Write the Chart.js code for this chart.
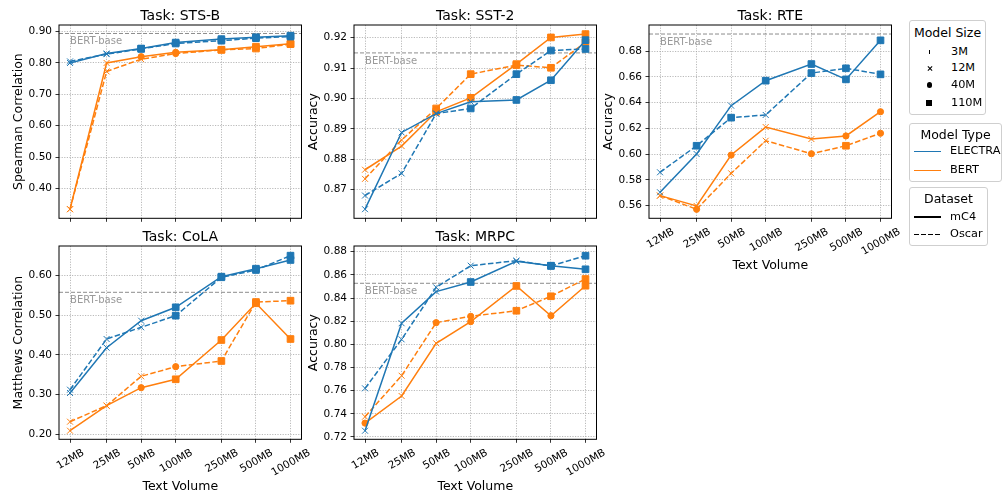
<!DOCTYPE html>
<html>
<head>
<meta charset="utf-8">
<script src="https://cdn.jsdelivr.net/npm/chart.js@4/dist/chart.umd.min.js"></script>
<style>
  html, body { margin: 0; padding: 0; background: #fff; }
  body { width: 1004px; height: 496px; position: relative; overflow: hidden; font-family: "DejaVu Sans", sans-serif; }
  canvas { position: absolute; }
  .leg { position: absolute; border: 1px solid #cfcfcf; border-radius: 3px; background: #fff; box-sizing: border-box; font-size: 11.3px; color: #000; }
  .leg .t { position: absolute; left: 0; width: 100%; text-align: center; line-height: 14px; font-size: 12.5px; }
  .leg .r { position: absolute; line-height: 14px; white-space: nowrap; }
  .mk { position: absolute; background: #000; }
  .ln { position: absolute; height: 1.5px; }
</style>
</head>
<body>
<canvas id="c-stsb" width="310" height="275" style="left:0px;top:0px"></canvas>
<canvas id="c-sst2" width="310" height="275" style="left:295px;top:0px"></canvas>
<canvas id="c-rte" width="310" height="275" style="left:590px;top:0px"></canvas>
<canvas id="c-cola" width="310" height="275" style="left:0px;top:221px"></canvas>
<canvas id="c-mrpc" width="310" height="275" style="left:295px;top:221px"></canvas>

<div class="leg" style="left:909px;top:20px;width:77px;height:95px">
  <div class="t" style="top:4.5px">Model Size</div>
  <div class="mk" style="left:18.5px;top:28.5px;width:1px;height:4.5px"></div>
  <div class="r" style="left:41px;top:23.5px">3M</div>
  <div class="mk" style="left:16.5px;top:47px;width:6px;height:1px;transform:rotate(45deg)"></div>
  <div class="mk" style="left:16.5px;top:47px;width:6px;height:1px;transform:rotate(-45deg)"></div>
  <div class="r" style="left:41px;top:40.3px">12M</div>
  <div class="mk" style="left:16.5px;top:61.3px;width:5.5px;height:5.5px;border-radius:50%"></div>
  <div class="r" style="left:41px;top:57px">40M</div>
  <div class="mk" style="left:16.3px;top:78.7px;width:6px;height:6px"></div>
  <div class="r" style="left:41px;top:74.7px">110M</div>
</div>

<div class="leg" style="left:909px;top:123px;width:93px;height:59px">
  <div class="t" style="top:3.8px">Model Type</div>
  <div class="ln" style="left:4px;width:27px;top:26.8px;background:#1f77b4"></div>
  <div class="r" style="left:40px;top:20.3px">ELECTRA</div>
  <div class="ln" style="left:4px;width:27px;top:45.5px;background:#ff7f0e"></div>
  <div class="r" style="left:40px;top:39px">BERT</div>
</div>

<div class="leg" style="left:909px;top:187px;width:79px;height:59px">
  <div class="t" style="top:4px">Dataset</div>
  <div class="ln" style="left:4px;width:27px;top:28px;background:#000"></div>
  <div class="r" style="left:40px;top:21.5px">mC4</div>
  <div class="ln" style="left:4px;width:27px;top:45.8px;background:repeating-linear-gradient(to right,#000 0 5px,transparent 5px 7px)"></div>
  <div class="r" style="left:40px;top:39px">Oscar</div>
</div>

<script>
// x axis: text volume in MB (log-spaced)
const volumes = [12, 25, 50, 100, 250, 500, 1000];
const volumeLabels = ['12MB', '25MB', '50MB', '100MB', '250MB', '500MB', '1000MB'];

// STS-B
const stsbElectraMc4 = [0.800, 0.830, 0.846, 0.865, 0.876, 0.882, 0.887];
const stsbElectraMc4Size = ['12M', '12M', '110M', '110M', '110M', '110M', '110M'];
const stsbElectraOscar = [0.805, 0.828, 0.845, 0.862, 0.871, 0.879, 0.884];
const stsbElectraOscarSize = ['12M', '12M', '110M', '110M', '110M', '110M', '110M'];
const stsbBertMc4 = [0.334, 0.800, 0.820, 0.834, 0.842, 0.852, 0.861];
const stsbBertMc4Size = ['12M', '12M', '40M', '40M', '110M', '110M', '110M'];
const stsbBertOscar = [0.334, 0.773, 0.812, 0.830, 0.842, 0.846, 0.860];
const stsbBertOscarSize = ['12M', '12M', '12M', '40M', '110M', '110M', '110M'];
const stsbTicks = [0.40, 0.50, 0.60, 0.70, 0.80, 0.90];

// SST-2
const sst2ElectraMc4 = [0.8635, 0.8888, 0.8950, 0.8989, 0.8995, 0.9060, 0.9192];
const sst2ElectraMc4Size = ['12M', '12M', '12M', '12M', '110M', '110M', '110M'];
const sst2ElectraOscar = [0.8680, 0.8753, 0.8950, 0.8967, 0.9080, 0.9158, 0.9163];
const sst2ElectraOscarSize = ['12M', '12M', '12M', '110M', '110M', '110M', '110M'];
const sst2BertMc4 = [0.8765, 0.8843, 0.8956, 0.9002, 0.9113, 0.9201, 0.9212];
const sst2BertMc4Size = ['12M', '12M', '110M', '110M', '110M', '110M', '110M'];
const sst2BertOscar = [0.8735, 0.8863, 0.8967, 0.9080, 0.9110, 0.9101, 0.9185];
const sst2BertOscarSize = ['12M', '12M', '110M', '110M', '110M', '110M', '110M'];
const sst2Ticks = [0.87, 0.88, 0.89, 0.90, 0.91, 0.92];

// RTE
const rteElectraMc4 = [0.5704, 0.6001, 0.6376, 0.6570, 0.6699, 0.6580, 0.6883];
const rteElectraMc4Size = ['12M', '12M', '12M', '110M', '110M', '110M', '110M'];
const rteElectraOscar = [0.5859, 0.6065, 0.6283, 0.6304, 0.6629, 0.6666, 0.6619];
const rteElectraOscarSize = ['12M', '110M', '110M', '12M', '110M', '110M', '110M'];
const rteBertMc4 = [0.5678, 0.5598, 0.5993, 0.6210, 0.6117, 0.6141, 0.6329];
const rteBertMc4Size = ['12M', '12M', '40M', '12M', '12M', '40M', '40M'];
const rteBertOscar = [0.5678, 0.5572, 0.5851, 0.6104, 0.6003, 0.6065, 0.6162];
const rteBertOscarSize = ['12M', '40M', '12M', '12M', '40M', '110M', '40M'];
const rteTicks = [0.56, 0.58, 0.60, 0.62, 0.64, 0.66, 0.68];

// CoLA
const colaElectraMc4 = [0.3039, 0.4179, 0.4858, 0.5195, 0.5966, 0.6166, 0.6385];
const colaElectraMc4Size = ['12M', '12M', '12M', '110M', '110M', '110M', '110M'];
const colaElectraOscar = [0.3122, 0.4397, 0.4692, 0.4984, 0.5950, 0.6133, 0.6494];
const colaElectraOscarSize = ['12M', '12M', '12M', '110M', '110M', '110M', '110M'];
const colaBertMc4 = [0.2090, 0.2720, 0.3172, 0.3384, 0.4372, 0.5296, 0.4397];
const colaBertMc4Size = ['12M', '12M', '40M', '110M', '110M', '110M', '110M'];
const colaBertOscar = [0.2317, 0.2720, 0.3459, 0.3701, 0.3844, 0.5328, 0.5361];
const colaBertOscarSize = ['12M', '12M', '12M', '40M', '110M', '110M', '110M'];
const colaTicks = [0.20, 0.30, 0.40, 0.50, 0.60];

// MRPC
const mrpcElectraMc4 = [0.7254, 0.8182, 0.8455, 0.8538, 0.8717, 0.8679, 0.8648];
const mrpcElectraMc4Size = ['12M', '12M', '12M', '110M', '12M', '110M', '110M'];
const mrpcElectraOscar = [0.7620, 0.8043, 0.8492, 0.8679, 0.8722, 0.8677, 0.8765];
const mrpcElectraOscarSize = ['12M', '12M', '12M', '12M', '12M', '110M', '110M'];
const mrpcBertMc4 = [0.7320, 0.7554, 0.8009, 0.8196, 0.8504, 0.8247, 0.8506];
const mrpcBertMc4Size = ['40M', '12M', '12M', '40M', '110M', '40M', '110M'];
const mrpcBertOscar = [0.7375, 0.7729, 0.8187, 0.8242, 0.8290, 0.8415, 0.8564];
const mrpcBertOscarSize = ['12M', '12M', '40M', '40M', '110M', '110M', '110M'];
const mrpcTicks = [0.72, 0.74, 0.76, 0.78, 0.80, 0.82, 0.84, 0.86, 0.88];

// BERT-base reference scores
const bertBase = { stsb: 0.894, sst2: 0.915, rte: 0.6932, cola: 0.5572, mrpc: 0.8527 };

const BLUE = '#1f77b4';
const ORANGE = '#ff7f0e';
const GRID = '#a8a8a8';
const FONT = '"DejaVu Sans", sans-serif';
const TICK_SIZE = 10.5;
const X_MIN = 9.62, X_MAX = 1247;

const MARKS = {
  '3M':   { style: 'line', rot: 90, r: 3 },
  '12M':  { style: 'crossRot', rot: 0, r: 4.2 },
  '40M':  { style: 'circle', rot: 0, r: 3.1 },
  '110M': { style: 'rect', rot: 0, r: 4.7 }
};

// frame, title, BERT-base note and centred 30° x tick labels (matplotlib style)
const panelDeco = {
  id: 'panelDeco',
  afterDatasetsDraw(chart, args, opts) {
    const { ctx, chartArea: a } = chart;
    const xs = chart.scales.x, ys = chart.scales.y;
    ctx.save();
    ctx.strokeStyle = '#000';
    ctx.lineWidth = 1;
    ctx.strokeRect(a.left, a.top, a.right - a.left, a.bottom - a.top);

    ctx.fillStyle = '#000';
    ctx.font = '14px ' + FONT;
    ctx.textAlign = 'center';
    ctx.textBaseline = 'alphabetic';
    ctx.fillText(opts.title, (a.left + a.right) / 2, a.top - 5.5);

    if (opts.showX) {
      ctx.font = TICK_SIZE + 'px ' + FONT;
      const cap = TICK_SIZE * 0.73;
      const ang = Math.PI / 6;
      volumes.forEach((v, i) => {
        const txt = volumeLabels[i];
        const w = ctx.measureText(txt).width;
        const bh = w * Math.sin(ang) + cap * Math.cos(ang);
        ctx.save();
        ctx.translate(xs.getPixelForValue(v), a.bottom + 8.5 + bh / 2);
        ctx.rotate(-ang);
        ctx.fillText(txt, 0, cap / 2);
        ctx.restore();
      });
    }

    ctx.fillStyle = '#999';
    ctx.font = '10px ' + FONT;
    ctx.textAlign = 'left';
    ctx.textBaseline = 'middle';
    ctx.fillText('BERT-base', xs.getPixelForValue(volumes[0]), ys.getPixelForValue(opts.base) + 8);
    ctx.restore();
  }
};

function series(vals, sizes, color, dashed, label) {
  return {
    label,
    data: volumes.map((v, i) => ({ x: v, y: vals[i] })),
    borderColor: color,
    backgroundColor: color,
    borderWidth: 1.5,
    borderDash: dashed ? [5.5, 2.4] : [],
    pointStyle: sizes.map(s => MARKS[s].style),
    pointRotation: sizes.map(s => MARKS[s].rot),
    pointRadius: sizes.map(s => MARKS[s].r),
    pointBorderWidth: 1,
    pointBackgroundColor: color,
    pointBorderColor: color,
    tension: 0,
    fill: false
  };
}

function makePanel(p) {
  const base = bertBase[p.key];
  new Chart(document.getElementById('c-' + p.key), {
    type: 'line',
    data: {
      datasets: [
        series(p.eM, p.eMs, BLUE, false, 'ELECTRA mC4'),
        series(p.eO, p.eOs, BLUE, true, 'ELECTRA Oscar'),
        series(p.bM, p.bMs, ORANGE, false, 'BERT mC4'),
        series(p.bO, p.bOs, ORANGE, true, 'BERT Oscar'),
        {
          label: 'BERT-base',
          data: [{ x: X_MIN, y: base }, { x: X_MAX, y: base }],
          borderColor: '#8c8c8c',
          borderWidth: 1,
          borderDash: [4, 2],
          pointRadius: 0,
          fill: false
        }
      ]
    },
    options: {
      responsive: false,
      animation: false,
      events: [],
      layout: { padding: { left: 0, right: 8.5, top: 25, bottom: 0 } },
      plugins: {
        legend: { display: false },
        tooltip: { enabled: false },
        panelDeco: { title: p.title, base, showX: p.showX }
      },
      scales: {
        x: {
          type: 'logarithmic',
          min: X_MIN,
          max: X_MAX,
          afterBuildTicks: s => { s.ticks = volumes.map(v => ({ value: v })); },
          afterFit: s => { s.height = 56.7; },
          grid: { color: GRID, lineWidth: 0.8, tickColor: '#000', tickLength: 3.5, tickWidth: 0.8 },
          border: { display: false, dash: [1.2, 1.4] },
          ticks: { display: false, autoSkip: false },
          title: {
            display: p.showX,
            text: 'Text Volume',
            color: '#000',
            font: { family: FONT, size: 12.5 },
            padding: { top: 0, bottom: 2 }
          }
        },
        y: {
          min: p.yMin,
          max: p.yMax,
          afterBuildTicks: s => { s.ticks = p.ticks.map(v => ({ value: v })); },
          afterFit: s => { s.width = 59; },
          grid: { color: GRID, lineWidth: 0.8, tickColor: '#000', tickLength: 3.5, tickWidth: 0.8 },
          border: { display: false, dash: [1.2, 1.4] },
          ticks: {
            padding: 3.5,
            color: '#000',
            font: { family: FONT, size: TICK_SIZE },
            callback: v => v.toFixed(2)
          },
          title: {
            display: true,
            text: p.yLabel,
            color: '#000',
            font: { family: FONT, size: 12.5 },
            padding: { top: 11, bottom: 0 }
          }
        }
      }
    },
    plugins: [panelDeco]
  });
}

makePanel({ key: 'stsb', title: 'Task: STS-B', yLabel: 'Spearman Correlation', yMin: 0.305, yMax: 0.921, ticks: stsbTicks, showX: false,
  eM: stsbElectraMc4, eMs: stsbElectraMc4Size, eO: stsbElectraOscar, eOs: stsbElectraOscarSize,
  bM: stsbBertMc4, bMs: stsbBertMc4Size, bO: stsbBertOscar, bOs: stsbBertOscarSize });
makePanel({ key: 'sst2', title: 'Task: SST-2', yLabel: 'Accuracy', yMin: 0.8605, yMax: 0.9242, ticks: sst2Ticks, showX: false,
  eM: sst2ElectraMc4, eMs: sst2ElectraMc4Size, eO: sst2ElectraOscar, eOs: sst2ElectraOscarSize,
  bM: sst2BertMc4, bMs: sst2BertMc4Size, bO: sst2BertOscar, bOs: sst2BertOscarSize });
makePanel({ key: 'rte', title: 'Task: RTE', yLabel: 'Accuracy', yMin: 0.5502, yMax: 0.7002, ticks: rteTicks, showX: true,
  eM: rteElectraMc4, eMs: rteElectraMc4Size, eO: rteElectraOscar, eOs: rteElectraOscarSize,
  bM: rteBertMc4, bMs: rteBertMc4Size, bO: rteBertOscar, bOs: rteBertOscarSize });
makePanel({ key: 'cola', title: 'Task: CoLA', yLabel: 'Matthews Correlation', yMin: 0.1874, yMax: 0.6737, ticks: colaTicks, showX: true,
  eM: colaElectraMc4, eMs: colaElectraMc4Size, eO: colaElectraOscar, eOs: colaElectraOscarSize,
  bM: colaBertMc4, bMs: colaBertMc4Size, bO: colaBertOscar, bOs: colaBertOscarSize });
makePanel({ key: 'mrpc', title: 'Task: MRPC', yLabel: 'Accuracy', yMin: 0.718, yMax: 0.8849, ticks: mrpcTicks, showX: true,
  eM: mrpcElectraMc4, eMs: mrpcElectraMc4Size, eO: mrpcElectraOscar, eOs: mrpcElectraOscarSize,
  bM: mrpcBertMc4, bMs: mrpcBertMc4Size, bO: mrpcBertOscar, bOs: mrpcBertOscarSize });
</script>
</body>
</html>
